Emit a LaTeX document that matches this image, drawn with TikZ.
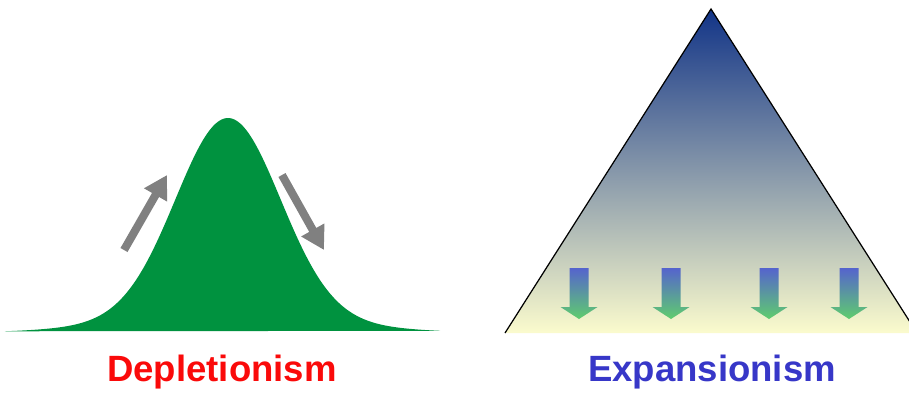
\documentclass[tikz,border=0pt]{standalone}
\usepackage{fontspec}
\setmainfont{Liberation Sans}
\usetikzlibrary{arrows.meta}
\definecolor{bellgreen}{RGB}{0,146,63}
\definecolor{pushgray}{RGB}{128,128,128}
\definecolor{depred}{RGB}{250,10,10}
\definecolor{expblue}{RGB}{55,55,200}
\definecolor{apexblue}{RGB}{18,52,135}
\definecolor{midgray}{RGB}{168,170,165}
\definecolor{paleyellow}{RGB}{251,251,205}
\definecolor{dropblue}{RGB}{85,100,205}
\definecolor{dropgreen}{RGB}{95,205,110}
\newcommand{\droparrow}[1]{\shade[drop] (#1-9.5,268) -- (#1+9.5,268) -- (#1+9.5,307) -- (#1+18.5,307) -- (#1,319) -- (#1-18.5,307) -- (#1-9.5,307) -- cycle;}

\begin{document}
\begin{tikzpicture}[x=0.02cm, y=-0.02cm]
    \tikzset{push/.style={pushgray, line width=4.6pt, -{Triangle[width=0.5cm, length=0.46cm]}}};
    \tikzset{title/.style={font=\bfseries\fontsize{20.8}{24}\selectfont}};
    \tikzset{drop/.style={top color=dropblue, bottom color=dropgreen}};
%%
\useasboundingbox (0,0) rectangle (909,393);
\begin{scope}
  \clip (0,0) rectangle (909,393);
  %% bell curve
  \fill[bellgreen] plot[domain=-4.29:4.08, samples=160, smooth]
    ({228+52*\x}, {333-215*(0.92*exp(-(\x)^2/2)+0.08*exp(-(\x)^2/8))}) -- cycle;
  %% triangle
  \coordinate (apex) at (711,9);
  \coordinate (baseL) at (505,333);
  \coordinate (baseR) at (917,333);
  \shade[top color=apexblue, middle color=midgray, bottom color=paleyellow] (apex) -- (baseR) -- (baseL) -- cycle;
  \draw[black, line width=0.7pt] (baseL) -- (apex) -- (baseR);
\end{scope}

  \coordinate (1) at (124,250);
  \coordinate (2) at (167,175);
  \coordinate (3) at (282,175);
  \coordinate (4) at (324,250);
  \draw [push] (1) -- (2);
  \draw [push] (3) -- (4);

  \droparrow{579}
  \droparrow{671}
  \droparrow{769}
  \droparrow{849}

  \node (dep) at (222,372) [title, depred] {Depletionism};
  \node (exp) at (712,372) [title, expblue] {Expansionism};
\end{tikzpicture}
\end{document}
